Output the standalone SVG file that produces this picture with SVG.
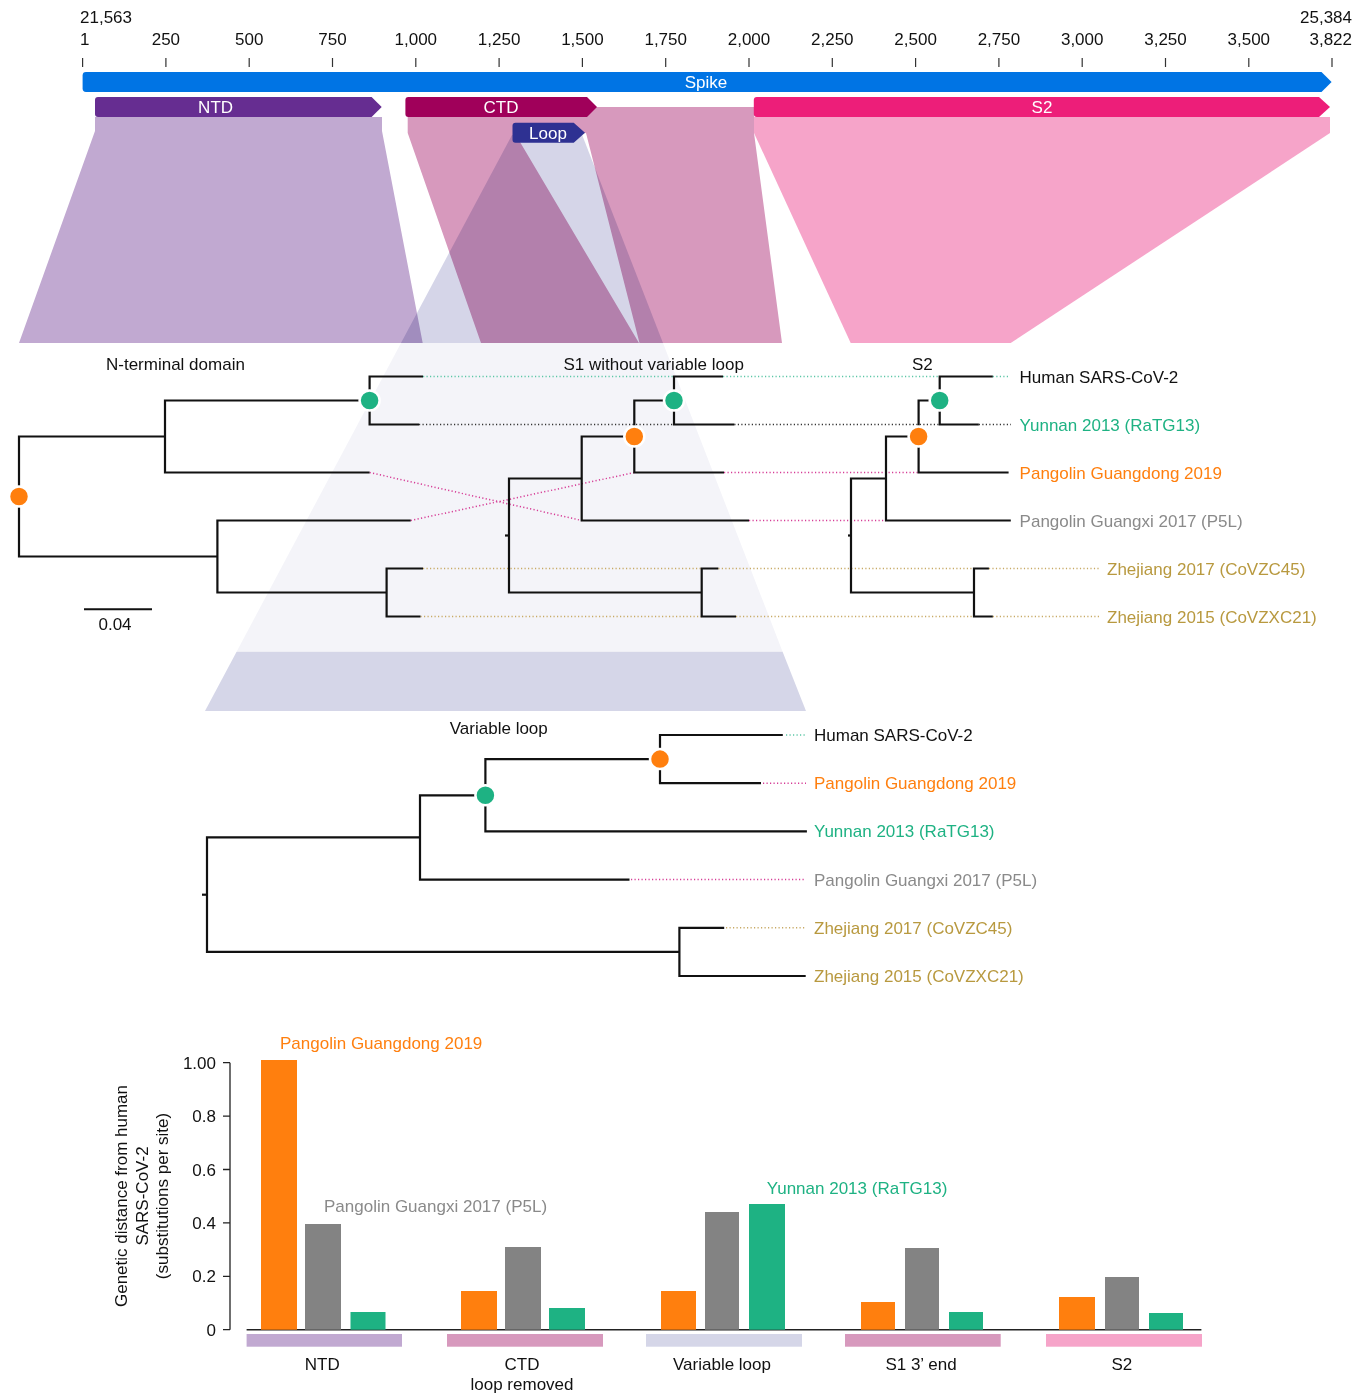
<svg xmlns="http://www.w3.org/2000/svg" width="1369" height="1393" viewBox="0 0 1369 1393">
<style>
text{font-family:"Liberation Sans",Arial,Helvetica,sans-serif;font-size:17px;fill:#111}
.w{fill:#fff}
.m{text-anchor:middle}
.e{text-anchor:end}
.br{stroke:#111;stroke-width:2.2;fill:none;stroke-linejoin:miter}
.dot{fill:none;stroke-width:1.5;stroke-dasharray:1.2 2.3}
.teal{stroke:#5cc6a6}.dk{stroke:#333}.mag{stroke:#d63c96}.gold{stroke:#c8aa66}
.cO{fill:#ff7f0e}.cG{fill:#1eb283}.cY{fill:#838383}
.tO{fill:#ff7f0e}.tG{fill:#1eb283}.tY{fill:#8a8a8a}.tZ{fill:#b8993f}
.node{stroke:#fff;stroke-width:2.5}
.mul{mix-blend-mode:multiply}
.tick{stroke:#333;stroke-width:1.2}
</style>

<!-- genome axis -->
<g id="axis">
<text x="80" y="23">21,563</text>
<text x="1352" y="23" class="e">25,384</text>
<text x="80" y="45">1</text>
<text x="165.9" y="45" class="m">250</text>
<text x="249.2" y="45" class="m">500</text>
<text x="332.5" y="45" class="m">750</text>
<text x="415.8" y="45" class="m">1,000</text>
<text x="499.1" y="45" class="m">1,250</text>
<text x="582.4" y="45" class="m">1,500</text>
<text x="665.7" y="45" class="m">1,750</text>
<text x="749" y="45" class="m">2,000</text>
<text x="832.3" y="45" class="m">2,250</text>
<text x="915.6" y="45" class="m">2,500</text>
<text x="998.9" y="45" class="m">2,750</text>
<text x="1082.2" y="45" class="m">3,000</text>
<text x="1165.5" y="45" class="m">3,250</text>
<text x="1248.8" y="45" class="m">3,500</text>
<text x="1352" y="45" class="e">3,822</text>
<path class="tick" d="M82.6,58V67M165.9,58V67M249.2,58V67M332.5,58V67M415.8,58V67M499.1,58V67M582.4,58V67M665.7,58V67M749,58V67M832.3,58V67M915.6,58V67M998.9,58V67M1082.2,58V67M1165.5,58V67M1248.8,58V67M1332,58V67"/>
</g>

<!-- mapping polygons -->
<g id="mapping">
<polygon points="95,117 382,117 382,131 422.7,343 19,343 95,131" fill="#c1a9d1"/>
<polygon points="407.7,107 754,107 754,133 782,343 639.5,343 586,133 520,142 639,343 481,343 407.7,133" fill="#d799bd"/>
<polygon points="754,117 1330,117 1330,133 1010.7,343 850.7,343 754,133" fill="#f6a4c9"/>
<polygon class="mul" points="512,135 581.4,133 663,343 401,343" fill="#d5d5e8"/>
<polygon points="401,343 663,343 782.6,651.7 236.6,651.7" fill="#f4f4f9"/>
<polygon points="236.6,651.7 782.6,651.7 806,711 205,711" fill="#d5d6e8"/>
</g>

<!-- domain bars -->
<g id="spike">
<path d="M86,72H1321.5L1331.6,82L1321.5,92H86Q82.6,92 82.6,88.6V75.4Q82.6,72 86,72Z" fill="#0074e4"/>
<text x="706" y="88" class="m w">Spike</text>
</g>
<g id="ntd">
<path d="M98,97H371.6L381.7,107L371.6,117H98Q95,117 95,114V100Q95,97 98,97Z" fill="#662d91"/>
<text x="215.6" y="113" class="m w">NTD</text>
</g>
<g id="ctd">
<path d="M408.4,97H587L597,107L587,117H408.4Q405.4,117 405.4,114V100Q405.4,97 408.4,97Z" fill="#a0005a"/>
<text x="501" y="113" class="m w">CTD</text>
</g>
<g id="loop">
<path d="M515.5,122.7H573.7L585,132.7L573.7,142.7H515.5Q512.5,142.7 512.5,139.7V125.7Q512.5,122.7 515.5,122.7Z" fill="#2e3192"/>
<text x="548" y="139" class="m w">Loop</text>
</g>
<g id="s2bar">
<path d="M756.8,97H1319L1330,107L1319,117H756.8Q753.8,117 753.8,114V100Q753.8,97 756.8,97Z" fill="#ed1e79"/>
<text x="1042" y="113" class="m w">S2</text>
</g>

<!-- tree titles -->
<g id="titles">
<text x="106" y="370">N-terminal domain</text>
<text x="563.4" y="370">S1 without variable loop</text>
<text x="912" y="370">S2</text>
<text x="449.8" y="734">Variable loop</text>
</g>

<!-- connectors between trees -->
<g id="connectors">
<path class="dot teal" d="M423,376.5H674M723,376.5H939.7M992.8,376.5H1008"/>
<path class="dot dk" d="M419,424.5H674M734.3,424.5H939.7M978.8,424.5H1011"/>
<path class="dot mag" d="M410.7,520.5L634.3,472.5M724,472.5H918.6"/>
<path class="dot mag" d="M369.6,472.5L581.7,520.5M749,520.5H886"/>
<path class="dot gold" d="M423,568.5H701.7M718.3,568.5H974M988.9,568.5H1100"/>
<path class="dot gold" d="M420.5,616.5H701.7M736,616.5H974M992.8,616.5H1100"/>
<path class="dot teal" d="M786,735H806"/>
<path class="dot mag" d="M763,783.2H806M631,879.6H806"/>
<path class="dot gold" d="M726,927.8H806"/>
</g>

<!-- NTD tree -->
<g id="tree-ntd">
<path class="br" d="M165,436.5H19V556.5H217.4"/>
<path class="br" d="M369.6,400.5H165V472.5H369.6"/>
<path class="br" d="M423,376.5H369.6V424.5H419"/>
<path class="br" d="M410.7,520.5H217.4V592.5H386.6"/>
<path class="br" d="M423,568.5H386.6V616.5H420.5"/>
<circle class="node cO" cx="19" cy="496.5" r="10"/>
<circle class="node cG" cx="369.6" cy="400.5" r="10"/>
<path d="M84,609.3H152" stroke="#111" stroke-width="2"/>
<text x="115" y="630" class="m">0.04</text>
</g>

<!-- S1 tree -->
<g id="tree-s1">
<path class="br" d="M723,376.5H674V424.5H734.3"/>
<path class="br" d="M674,400.5H634.3V472.5H724"/>
<path class="br" d="M634.3,436.5H581.7V520.5H749"/>
<path class="br" d="M581.7,478.5H509V592.5H701.7"/>
<path class="br" d="M505,535.5H509"/>
<path class="br" d="M718.3,568.5H701.7V616.5H736"/>
<circle class="node cG" cx="674" cy="400.5" r="10"/>
<circle class="node cO" cx="634.3" cy="436.5" r="10"/>
</g>

<!-- S2 tree -->
<g id="tree-s2">
<path class="br" d="M992.8,376.5H939.7V424.5H978.8"/>
<path class="br" d="M939.7,400.5H918.6V472.5H1008.6"/>
<path class="br" d="M918.6,436.5H886V520.5H1010.8"/>
<path class="br" d="M886,478.5H851V592.5H974"/>
<path class="br" d="M848,535.5H851"/>
<path class="br" d="M988.9,568.5H974V616.5H992.8"/>
<circle class="node cG" cx="939.7" cy="400.5" r="10"/>
<circle class="node cO" cx="918.6" cy="436.5" r="10"/>
</g>

<g id="labels-s2">
<text x="1019.6" y="382.5">Human SARS-CoV-2</text>
<text x="1019.6" y="430.5" class="tG">Yunnan 2013 (RaTG13)</text>
<text x="1019.6" y="478.5" class="tO">Pangolin Guangdong 2019</text>
<text x="1019.6" y="526.5" class="tY">Pangolin Guangxi 2017 (P5L)</text>
<text x="1107" y="574.5" class="tZ">Zhejiang 2017 (CoVZC45)</text>
<text x="1107" y="622.5" class="tZ">Zhejiang 2015 (CoVZXC21)</text>
</g>

<!-- Variable loop tree -->
<g id="tree-vl">
<path class="br" d="M782.8,735H660V783.2H761"/>
<path class="br" d="M660,759.1H485.4V831.4H806.9"/>
<path class="br" d="M485.4,795.3H420V879.6H629.5"/>
<path class="br" d="M420,837.4H207V951.9H679.4"/>
<path class="br" d="M202,894.7H207"/>
<path class="br" d="M724.2,927.8H679.4V976H805.7"/>
<circle class="node cO" cx="660" cy="759.1" r="10"/>
<circle class="node cG" cx="485.4" cy="795.3" r="10"/>
</g>
<g id="labels-vl">
<text x="814" y="741">Human SARS-CoV-2</text>
<text x="814" y="789.2" class="tO">Pangolin Guangdong 2019</text>
<text x="814" y="837.4" class="tG">Yunnan 2013 (RaTG13)</text>
<text x="814" y="885.6" class="tY">Pangolin Guangxi 2017 (P5L)</text>
<text x="814" y="933.8" class="tZ">Zhejiang 2017 (CoVZC45)</text>
<text x="814" y="982" class="tZ">Zhejiang 2015 (CoVZXC21)</text>
</g>

<!-- bar chart -->
<g id="chart-axes">
<path d="M230,1062.7V1329.7M223,1062.7H230M223,1116.1H230M223,1169.5H230M223,1222.9H230M223,1276.3H230M223,1329.7H230" stroke="#222" stroke-width="1.3" fill="none"/>
<path d="M246.6,1329.7H1201.4" stroke="#222" stroke-width="1.6"/>
<text x="216" y="1068.7" class="e">1.00</text>
<text x="216" y="1122.1" class="e">0.8</text>
<text x="216" y="1175.5" class="e">0.6</text>
<text x="216" y="1228.9" class="e">0.4</text>
<text x="216" y="1282.3" class="e">0.2</text>
<text x="216" y="1335.7" class="e">0</text>
<g transform="translate(0,1196) rotate(-90)" class="m">
<text x="0" y="127" class="m">Genetic distance from human</text>
<text x="0" y="147.5" class="m">SARS-CoV-2</text>
<text x="0" y="168" class="m">(substitutions per site)</text>
</g>
</g>

<g id="bars">
<rect class="cO" x="261" y="1060" width="36" height="269.7"/>
<rect class="cY" x="305" y="1224" width="36" height="105.7"/>
<rect class="cG" x="350.5" y="1312" width="35" height="17.7"/>
<rect class="cO" x="461" y="1291" width="36" height="38.7"/>
<rect class="cY" x="505" y="1247" width="36" height="82.7"/>
<rect class="cG" x="549" y="1308" width="36" height="21.7"/>
<rect class="cO" x="661" y="1291" width="35" height="38.7"/>
<rect class="cY" x="705" y="1212" width="34" height="117.7"/>
<rect class="cG" x="749" y="1204" width="36" height="125.7"/>
<rect class="cO" x="861" y="1302" width="34" height="27.7"/>
<rect class="cY" x="905" y="1248" width="34" height="81.7"/>
<rect class="cG" x="949" y="1312" width="34" height="17.7"/>
<rect class="cO" x="1059" y="1297" width="36" height="32.7"/>
<rect class="cY" x="1105" y="1277" width="34" height="52.7"/>
<rect class="cG" x="1149" y="1313" width="34" height="16.7"/>
</g>

<g id="categories">
<rect x="246.6" y="1334" width="155.4" height="12.7" fill="#c1a9d1"/>
<rect x="447" y="1334" width="156" height="12.7" fill="#d799bd"/>
<rect x="646" y="1334" width="156" height="12.7" fill="#d5d6e8"/>
<rect x="845" y="1334" width="155.7" height="12.7" fill="#d799bd"/>
<rect x="1046" y="1334" width="156" height="12.7" fill="#f6a4c9"/>
<text x="322.3" y="1370" class="m">NTD</text>
<text x="522" y="1370" class="m">CTD</text>
<text x="522" y="1390" class="m">loop removed</text>
<text x="722" y="1370" class="m">Variable loop</text>
<text x="921" y="1370" class="m">S1 3’ end</text>
<text x="1121.8" y="1370" class="m">S2</text>
</g>

<g id="annotations">
<text x="280" y="1049" class="tO">Pangolin Guangdong 2019</text>
<text x="324" y="1212.3" class="tY">Pangolin Guangxi 2017 (P5L)</text>
<text x="766.8" y="1194" class="tG">Yunnan 2013 (RaTG13)</text>
</g>
</svg>
